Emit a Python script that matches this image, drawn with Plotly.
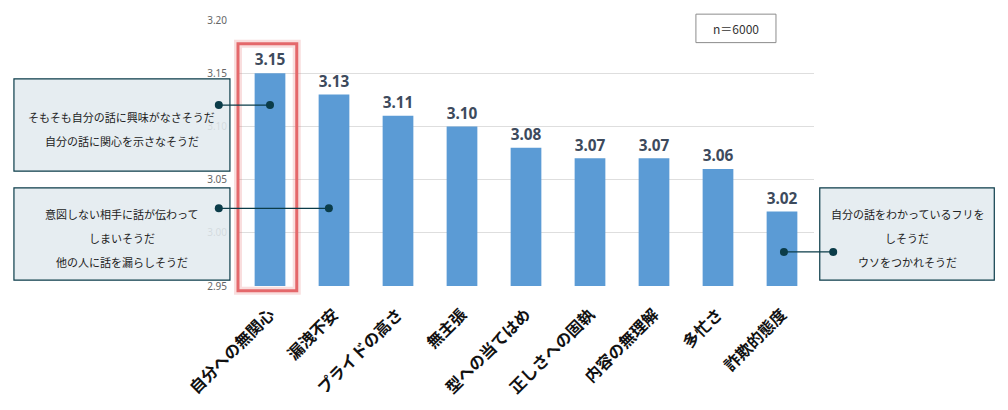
import plotly.graph_objects as go

# data
categories = ["自分への無関心", "漏洩不安", "プライドの高さ", "無主張", "型への当てはめ",
              "正しさへの固執", "内容の無理解", "多忙さ", "詐欺的態度"]
scores = [3.15, 3.13, 3.11, 3.10, 3.08, 3.07, 3.07, 3.06, 3.02]
y_ticks = [2.95, 3.00, 3.05, 3.10, 3.15, 3.20]
sample_label = "n＝6000"

callout_texts = [
    ["そもそも自分の話に興味がなさそうだ", "自分の話に関心を示さなそうだ"],
    ["意図しない相手に話が伝わって", "しまいそうだ", "他の人に話を漏らしそうだ"],
    ["自分の話をわかっているフリを", "しそうだ", "ウソをつかれそうだ"],
]

BAR = "#5b9bd5"
DARK = "#0b3c49"
RED = "#e4686b"
X_RANGE = [-0.5, 8.5]

fig = go.Figure()
fig.add_trace(go.Bar(
    x=list(range(len(categories))), y=scores,
    width=0.48,
    marker=dict(color=BAR, line=dict(width=0)),
    text=[f"{v:.2f}" for v in scores],
    textposition="outside",
    textfont=dict(family="Noto Sans", size=16, color="#3d4a5c", weight="bold"),
    cliponaxis=False,
    hoverinfo="x+y",
    showlegend=False,
))

# callout geometry: (bar-side point, box-side point) in data units, box in paper units
links = [
    dict(bx=0.0, ex=-0.8, y=3.12),
    dict(bx=0.92, ex=-0.8, y=3.023),
    dict(bx=8.03, ex=8.8, y=2.982),
]
boxes = [
    dict(x0=-0.389, x1=-0.014, y0=0.432, y1=0.779),
    dict(x0=-0.389, x1=-0.014, y0=0.022, y1=0.369),
    dict(x0=1.010, x1=1.313, y0=0.022, y1=0.369),
]


def to_paper(xv):
    return (xv - X_RANGE[0]) / (X_RANGE[1] - X_RANGE[0])


shapes = []
annotations = []
for box, lines in zip(boxes, callout_texts):
    shapes.append(dict(type="rect", xref="paper", yref="paper", layer="above",
                       x0=box["x0"], x1=box["x1"], y0=box["y0"], y1=box["y1"],
                       fillcolor="rgba(226,235,239,0.88)", line=dict(color=DARK, width=1.2)))
    cx = (box["x0"] + box["x1"]) / 2
    cy = (box["y0"] + box["y1"]) / 2 - 0.015
    step = 0.09
    n = len(lines)
    for k, t in enumerate(lines):
        annotations.append(dict(xref="paper", yref="paper", x=cx, y=cy + (n - 1) / 2 * step - k * step,
                                text=t, showarrow=False, xanchor="center", yanchor="middle",
                                font=dict(family="Noto Sans CJK JP", size=11, color="#222222")))

for ln in links:
    annotations.append(dict(x=ln["bx"], y=ln["y"], xref="x", yref="y",
                            ax=ln["ex"], ay=ln["y"], axref="x", ayref="y",
                            text="", showarrow=True, arrowhead=0, arrowwidth=1.3,
                            arrowcolor=DARK, standoff=0, startstandoff=0))
    for px in (ln["bx"], ln["ex"]):
        shapes.append(dict(type="circle", xref="paper", yref="y",
                           xsizemode="pixel", ysizemode="pixel",
                           xanchor=to_paper(px), yanchor=ln["y"],
                           x0=-4, x1=4, y0=-4, y1=4,
                           fillcolor=DARK, line=dict(width=0)))

# highlight around first bar (glow + line)
for w, c in [(8, "rgba(228,104,107,0.22)"), (3, RED)]:
    shapes.append(dict(type="rect", xref="x domain", yref="paper",
                       x0=0.0, x1=0.102, y0=-0.018, y1=0.911,
                       line=dict(color=c, width=w), fillcolor="rgba(0,0,0,0)"))

# sample size box
shapes.append(dict(type="rect", xref="paper", yref="paper",
                   x0=0.795, x1=0.934, y0=0.915, y1=1.022,
                   fillcolor="white", line=dict(color="#8c8c8c", width=1)))
annotations.append(dict(xref="paper", yref="paper", x=0.8645, y=0.968, text=sample_label,
                        xanchor="center", yanchor="middle",
                        showarrow=False, font=dict(family="Noto Sans CJK JP", size=12, color="#333333")))

fig.update_layout(
    width=1008, height=410,
    margin=dict(l=238, r=194, t=16, b=123),
    plot_bgcolor="white", paper_bgcolor="white",
    shapes=shapes, annotations=annotations,
)
fig.update_xaxes(
    range=X_RANGE,
    tickmode="array", tickvals=list(range(len(categories))), ticktext=categories,
    tickangle=-45,
    tickfont=dict(family="Noto Sans CJK JP", size=16, color="#111111", weight="bold"),
    ticklabelstandoff=15,
    showgrid=False, showline=False, zeroline=False, ticks="",
)
fig.update_yaxes(
    range=[2.95, 3.20], tickvals=y_ticks, tickformat=".2f",
    tickfont=dict(family="Noto Sans", size=10, color="#666666"),
    ticklabelstandoff=10,
    showgrid=True, gridcolor="#dedede", gridwidth=1,
    zeroline=False, showline=False,
)

fig.write_html("out.html", config={"displayModeBar": False},
               post_script="document.body.style.margin='0';")
